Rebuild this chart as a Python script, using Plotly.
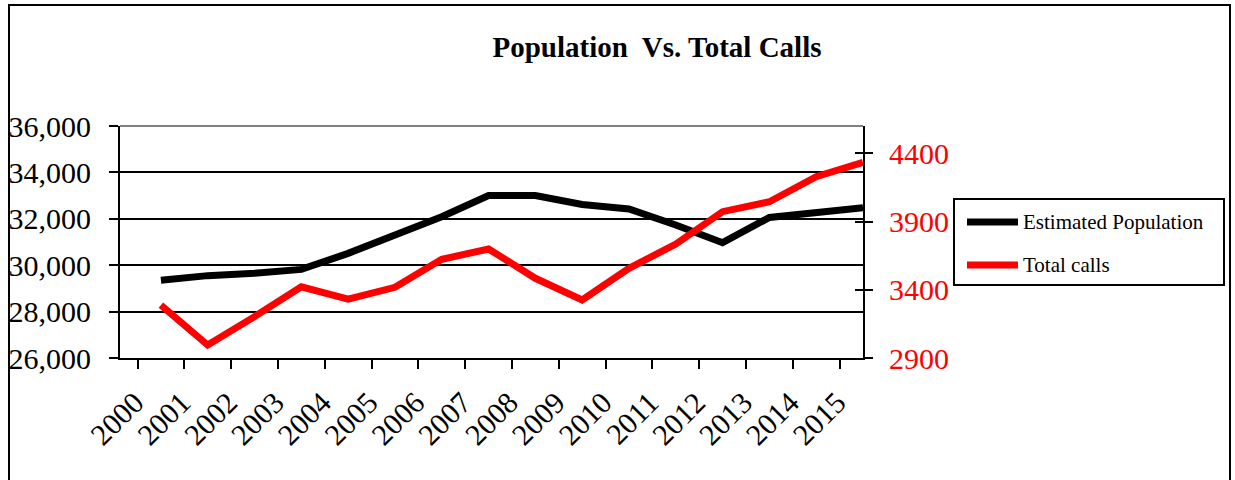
import plotly.graph_objects as go

years = [str(y) for y in range(2000, 2016)]
population = [29350, 29550, 29650, 29820, 30510, 31300, 32090, 33000,
              33000, 32620, 32420, 31730, 30970, 32060, 32260, 32480]
total_calls = [3288, 2995, 3203, 3422, 3332, 3418, 3623, 3699,
               3484, 3325, 3557, 3735, 3972, 4045, 4229, 4334]
left_ticks = [26000, 28000, 30000, 32000, 34000, 36000]
right_ticks = [2900, 3400, 3900, 4400]

FONT = "Liberation Serif, Times New Roman, serif"
W, H = 1235, 480
L, R, T, B = 120, 372, 126, 122
PW, PH = W - L - R, H - T - B

def px(x):
    return (x - L) / PW

def py(y):
    return (H - B - y) / PH

fig = go.Figure()
fig.add_trace(go.Scatter(x=years, y=population, mode="lines", name="Estimated Population",
                         line=dict(color="black", width=7), yaxis="y", showlegend=False))
fig.add_trace(go.Scatter(x=years, y=total_calls, mode="lines", name="Total calls",
                         line=dict(color="#ff0000", width=7), yaxis="y2", showlegend=False))
# invisible helper trace to activate the crossing-tick axis
fig.add_trace(go.Scatter(x=[years[0]], y=[right_ticks[0]], yaxis="y3", mode="markers",
                         marker=dict(opacity=0), showlegend=False, hoverinfo="skip"))

fig.update_layout(
    width=W, height=H,
    margin=dict(l=L, r=R, t=T, b=B, pad=0, autoexpand=False),
    paper_bgcolor="white", plot_bgcolor="white",
    font=dict(family=FONT, color="black"),
    title=dict(text="<b>Population  Vs. Total Calls</b>", x=657 / W, xanchor="center",
               y=1 - 47 / H, yanchor="middle", font=dict(size=29, family=FONT, color="black")),
    xaxis=dict(type="category", tickson="boundaries", ticks="outside", ticklen=9,
               tickwidth=2, tickcolor="black", showline=True, linecolor="black", linewidth=2,
               tickangle=-45, tickfont=dict(size=30, family=FONT, color="black"),
               showgrid=False, zeroline=False, ticklabelstandoff=13, ticklabelshift=-26,
               automargin=False),
    yaxis=dict(range=[26000, 36000], tickvals=left_ticks, tickformat=",", ticks="outside",
               ticklen=9, tickwidth=2, tickcolor="black", showline=True, linecolor="black",
               linewidth=2, showgrid=True, gridcolor="black", gridwidth=1.5, zeroline=False,
               tickfont=dict(size=30, family=FONT, color="black"), ticklabelstandoff=12,
               automargin=False),
    yaxis2=dict(range=[2900, 4600], tickvals=right_ticks, overlaying="y", side="right",
                anchor="x", ticks="outside", ticklen=8, tickwidth=2, tickcolor="black",
                showline=True, linecolor="black", linewidth=2, showgrid=False, zeroline=False,
                tickfont=dict(size=30, family=FONT, color="#ff0000"), ticklabelstandoff=10,
                automargin=False),
    yaxis3=dict(range=[2900, 4600], tickvals=right_ticks, overlaying="y", side="right",
                anchor="x", ticks="inside", ticklen=8, tickwidth=2, tickcolor="black",
                showline=False, showgrid=False, zeroline=False, showticklabels=False,
                automargin=False),
)

shapes = []
# plot-area top border (grey)
shapes.append(dict(type="line", xref="paper", yref="paper", x0=0, x1=1, y0=1, y1=1,
                   line=dict(color="#808080", width=2)))
# outer chart border
shapes.append(dict(type="rect", xref="paper", yref="paper",
                   x0=px(9), x1=px(1230), y0=py(5), y1=py(490),
                   line=dict(color="black", width=2), layer="above"))
# legend box
lx0, lx1, ly0, ly1 = 954, 1224, 199, 285
shapes.append(dict(type="rect", xref="paper", yref="paper",
                   x0=px(lx0), x1=px(lx1), y0=py(ly0), y1=py(ly1),
                   line=dict(color="black", width=2), fillcolor="white"))
legend_items = [("Estimated Population", "black", 222), ("Total calls", "#ff0000", 265)]
annotations = []
for label, color, yy in legend_items:
    shapes.append(dict(type="line", xref="paper", yref="paper",
                       x0=px(967), x1=px(1018), y0=py(yy), y1=py(yy),
                       line=dict(color=color, width=7)))
    annotations.append(dict(text=label, xref="paper", yref="paper", x=px(1021), y=py(yy),
                            xanchor="left", yanchor="middle", showarrow=False,
                            font=dict(size=21, family=FONT, color="black")))
fig.update_layout(shapes=shapes, annotations=annotations)

fig.write_html("out.html", config={"displayModeBar": False},
               post_script="document.body.style.margin='0px';document.body.style.padding='0px';")
